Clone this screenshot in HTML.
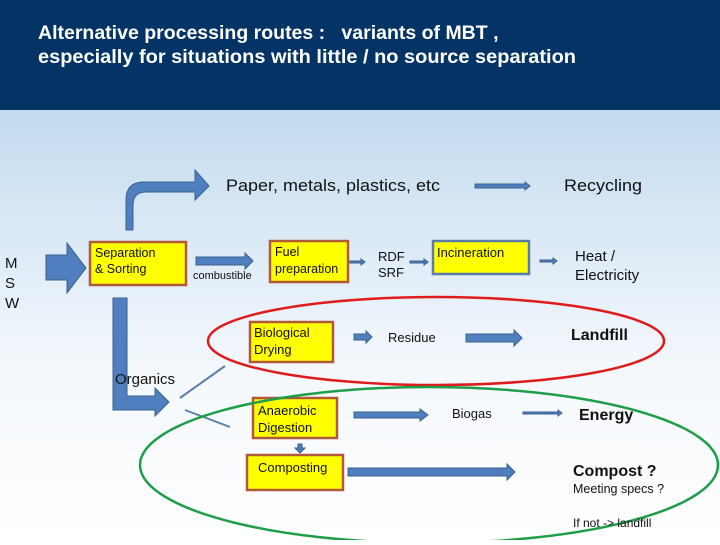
<!DOCTYPE html>
<html><head><meta charset="utf-8"><style>
html,body{margin:0;padding:0;}
body{width:720px;height:540px;overflow:hidden;font-family:"Liberation Sans",sans-serif;}
</style></head><body>
<svg width="720" height="540" viewBox="0 0 720 540" xmlns="http://www.w3.org/2000/svg" font-family="Liberation Sans, sans-serif">
<defs>
<linearGradient id="bg" x1="0" y1="0" x2="0" y2="1">
<stop offset="0" stop-color="#c3dbef"/>
<stop offset="0.6" stop-color="#f4f8fc"/>
<stop offset="1" stop-color="#ffffff"/>
</linearGradient>
</defs>
<rect x="0" y="110" width="720" height="430" fill="url(#bg)"/>
<rect x="0" y="0" width="720" height="110" fill="#043466"/>
<text x="38" y="39" font-size="19.5" font-weight="bold" fill="#fff" xml:space="preserve">Alternative processing routes :   variants of MBT ,</text>
<text x="38" y="63" font-size="19.5" font-weight="bold" fill="#fff" textLength="538" lengthAdjust="spacingAndGlyphs">especially for situations with little / no source separation</text>

<g fill="#4f7fbf" stroke="#3a6190" stroke-width="1">
<polygon points="46,255 67,255 67,243 86,268 67,293 67,280 46,280"/>
<path d="M126,230 L126,200 Q126,182 144,182 L195,182 L195,170 L209,186 L195,200 L195,192 L146,192 Q133,192 133,205 L133,230 Z"/>
<polygon points="196,257 245,257 245,253 253,261 245,269 245,265 196,265"/>
<polygon points="113,298 127,298 127,396 155,396 155,388 169,402 155,416 155,410 113,410"/>
<polygon points="354,334 366,334 366,331 372,337 366,343 366,340 354,340"/>
<polygon points="466,334 514,334 514,330 522,338 514,346 514,342 466,342"/>
<polygon points="354,412 420,412 420,409 428,415 420,421 420,418 354,418"/>
<polygon points="348,468 507,468 507,464 515,472 507,480 507,476 348,476"/>
<polygon points="298,444 302,444 302,448 305,448 300,453 295,448 298,448"/>
<polygon points="475,184 525,184 525,182 530,186 525,190 525,188 475,188"/>
<polygon points="523,412 558,412 558,410 562,413 558,416 558,414 523,414"/>
<polygon points="348,261 361,261 361,259 365,262 361,265 361,263 348,263"/>
<polygon points="410,261 424,261 424,259 428,262 424,265 424,263 410,263"/>
<polygon points="540,260 553,260 553,258 557,261 553,264 553,262 540,262"/>
</g>
<g stroke="#5a7fa8" stroke-width="2" fill="none">
<line x1="180" y1="398" x2="225" y2="366"/>
<line x1="185" y1="410" x2="230" y2="427"/>
</g>

<g fill="#ffff00" stroke="#b05a3c" stroke-width="2.5">
<rect x="90" y="242" width="96" height="43"/>
<rect x="270" y="241" width="78" height="41"/>
<rect x="250" y="322" width="83" height="40"/>
<rect x="253" y="398" width="84" height="40"/>
<rect x="247" y="455" width="96" height="35"/>
</g>
<rect x="433" y="241" width="96" height="33" fill="#ffff00" stroke="#5b7ca8" stroke-width="2.5"/>

<ellipse cx="436" cy="341" rx="228" ry="44" fill="none" stroke="#e01b1b" stroke-width="2.5"/>
<ellipse cx="429" cy="465" rx="289" ry="78" fill="none" stroke="#1f9e4a" stroke-width="2.5"/>

<g fill="#111">
<text x="5" y="268" font-size="15">M</text>
<text x="5" y="288" font-size="15">S</text>
<text x="5" y="308" font-size="15">W</text>
<text x="95" y="257" font-size="12.5">Separation</text>
<text x="95" y="273" font-size="12.5">&amp; Sorting</text>
<text x="193" y="279" font-size="11">combustible</text>
<text x="275" y="256" font-size="12.5">Fuel</text>
<text x="275" y="273" font-size="12.5">preparation</text>
<text x="378" y="261" font-size="13">RDF</text>
<text x="378" y="277" font-size="13">SRF</text>
<text x="437" y="257" font-size="13">Incineration</text>
<text x="575" y="261" font-size="15">Heat /</text>
<text x="575" y="280" font-size="15">Electricity</text>
<text x="226" y="191" font-size="17" textLength="214" lengthAdjust="spacingAndGlyphs">Paper, metals, plastics, etc</text>
<text x="564" y="191" font-size="17" textLength="78" lengthAdjust="spacingAndGlyphs">Recycling</text>
<text x="254" y="337" font-size="13">Biological</text>
<text x="254" y="354" font-size="13">Drying</text>
<text x="388" y="342" font-size="13">Residue</text>
<text x="571" y="340" font-size="16" font-weight="bold">Landfill</text>
<text x="115" y="384" font-size="15">Organics</text>
<text x="258" y="415" font-size="13">Anaerobic</text>
<text x="258" y="432" font-size="13">Digestion</text>
<text x="452" y="418" font-size="13">Biogas</text>
<text x="579" y="420" font-size="16" font-weight="bold">Energy</text>
<text x="258" y="472" font-size="13">Composting</text>
<text x="573" y="476" font-size="16" font-weight="bold">Compost ?</text>
<text x="573" y="493" font-size="12.5">Meeting specs ?</text>
<text x="573" y="527" font-size="12">If not -&gt; landfill</text>
</g>
</svg>
</body></html>
